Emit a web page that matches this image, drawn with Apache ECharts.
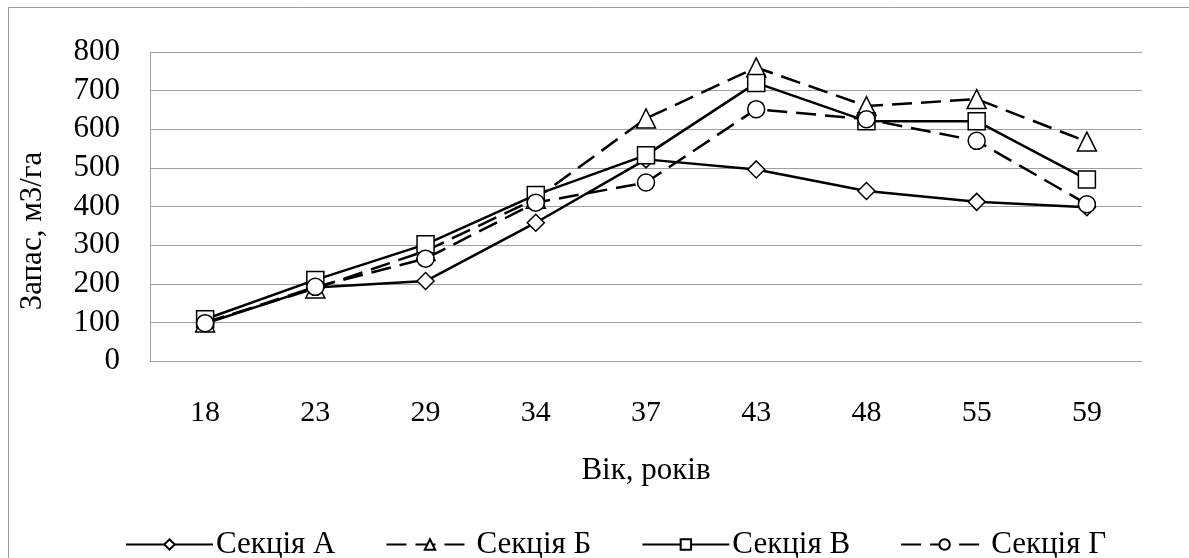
<!DOCTYPE html>
<html>
<head>
<meta charset="utf-8">
<script src="https://cdn.jsdelivr.net/npm/echarts@6/dist/echarts.min.js"></script>
<style>
html,body{margin:0;padding:0;background:#fff;}
#chart{width:1189px;height:558px;}
</style>
</head>
<body>
<div id="chart"></div>
<script>
const categories = ['18', '23', '29', '34', '37', '43', '48', '55', '59'];
const seriesNames = ['Секція А', 'Секція Б', 'Секція В', 'Секція Г'];
const sectionA = [97, 190, 207, 358, 522, 496, 440, 412, 398];
const sectionB = [100, 188, 285, 420, 628, 760, 660, 678, 568];
const sectionV = [108, 210, 302, 430, 533, 720, 621, 621, 470];
const sectionG = [98, 192, 265, 410, 462, 652, 626, 570, 406];
const yTicks = [0, 100, 200, 300, 400, 500, 600, 700, 800];
const xTitle = 'Вік, років';
const yTitle = 'Запас, м3/га';

const FONT = '"Liberation Serif", "Times New Roman", serif';
const chart = echarts.init(document.getElementById('chart'));

function mk(name, data, symbol, dashed) {
  return {
    name: name,
    type: 'line',
    data: data,
    symbol: symbol,
    symbolSize: symbol === 'triangle' ? 19 : 17,
    showAllSymbol: true,
    lineStyle: { color: '#000', width: 2.5, type: dashed ? [20, 9] : 'solid' },
    itemStyle: { color: '#fff', borderColor: '#000', borderWidth: 1.5 },
    emphasis: { disabled: true },
    animation: false
  };
}

chart.setOption({
  backgroundColor: '#fff',
  animation: false,
  grid: { left: 150, right: 47, top: 52, bottom: 197, containLabel: false },
  xAxis: {
    type: 'category',
    data: categories,
    boundaryGap: true,
    axisLine: { show: true, lineStyle: { color: '#a0a0a0', width: 1 } },
    axisTick: { show: false },
    axisLabel: { color: '#000', fontFamily: FONT, fontSize: 30, margin: 37 },
    splitLine: { show: false },
    name: xTitle,
    nameLocation: 'middle',
    nameGap: 94,
    nameTextStyle: { color: '#000', fontFamily: FONT, fontSize: 31 }
  },
  yAxis: {
    type: 'value',
    min: yTicks[0],
    max: yTicks[yTicks.length - 1],
    interval: yTicks[1] - yTicks[0],
    axisLine: { show: true, lineStyle: { color: '#a0a0a0', width: 1 } },
    axisTick: { show: false },
    axisLabel: { color: '#000', fontFamily: FONT, fontSize: 31, margin: 30, padding: [8, 0, 0, 0] },
    splitLine: { show: true, lineStyle: { color: '#a0a0a0', width: 1 } }
  },
  legend: {
    show: true,
    left: 120,
    top: 524,
    itemWidth: 87,
    itemHeight: 13,
    itemGap: 50,
    textStyle: { color: '#000', fontFamily: FONT, fontSize: 31, padding: [0, 0, 0, -2] },
    data: seriesNames
  },
  graphic: [
    { type: 'rect', left: 6, top: 5, shape: { x: 0, y: 0, width: 1200, height: 600 },
      style: { fill: 'none', stroke: '#999', lineWidth: 1 }, silent: true, z: -10 },
    { type: 'text', x: 33, y: 231, rotation: Math.PI / 2,
      style: { text: yTitle, fill: '#000', font: '31px ' + FONT, textAlign: 'center', textVerticalAlign: 'middle' } }
  ],
  series: [
    mk(seriesNames[0], sectionA, 'diamond', false),
    mk(seriesNames[1], sectionB, 'triangle', true),
    mk(seriesNames[2], sectionV, 'rect', false),
    mk(seriesNames[3], sectionG, 'circle', true)
  ]
});
</script>
</body>
</html>
